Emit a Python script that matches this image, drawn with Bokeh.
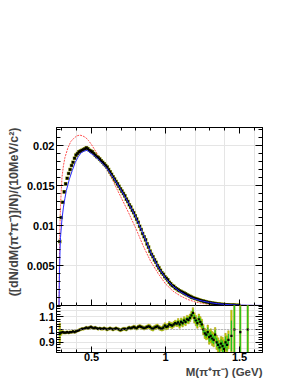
from bokeh.plotting import figure
from bokeh.models import Range1d, LinearAxis, FixedTicker, CustomJSTickFormatter, Span, Title
from bokeh.layouts import column
from bokeh.embed import file_html
from bokeh.resources import INLINE

FONT = "Liberation Sans"

# ---------------- data ----------------
# bin centres, 10 MeV bins starting at threshold
mass = [round(0.285 + 0.01 * i, 3) for i in range(122)]

# dN/dM / N per 10 MeV, in units of 1e-3
dndm_e3 = [
    8.0, 11.0, 12.9, 14.2, 15.2, 15.9, 16.5, 17.0, 17.5, 17.9,
    18.4, 18.8, 19.0, 19.2, 19.3, 19.4, 19.5, 19.6, 19.7, 19.6,
    19.4, 19.3, 19.2, 19.0, 18.8, 18.6, 18.5, 18.3, 18.1, 17.9,
    17.7, 17.5, 17.3, 17.0, 16.7, 16.4, 16.1, 15.8, 15.5, 15.2,
    14.9, 14.6, 14.3, 14.0, 13.7, 13.3, 13.0, 12.6, 12.3, 11.9,
    11.6, 11.2, 10.8, 10.4, 9.9, 9.5, 9.0, 8.6, 8.2, 7.7,
    7.3, 6.8, 6.4, 6.1, 5.7, 5.4, 5.0, 4.7, 4.4, 4.1,
    3.9, 3.6, 3.4, 3.2, 2.9, 2.7, 2.5, 2.4, 2.2, 2.1,
    1.95, 1.85, 1.75, 1.65, 1.55, 1.45, 1.35, 1.25, 1.15, 1.05,
    0.97, 0.9, 0.84, 0.78, 0.72, 0.66, 0.6, 0.55, 0.5, 0.45,
    0.41, 0.37, 0.33, 0.3, 0.27, 0.24, 0.22, 0.19, 0.17, 0.15,
    0.13, 0.12, 0.1, 0.09, 0.08, 0.07, 0.06, 0.05, 0.045, 0.04,
    0.035, 0.03,
]

# simulation curve (blue)
blue_x = [0.28, 0.283, 0.287, 0.29, 0.30, 0.31, 0.32, 0.33, 0.35, 0.37,
          0.39, 0.41, 0.43, 0.45, 0.47, 0.49, 0.52, 0.56, 0.60, 0.65,
          0.70, 0.75, 0.80, 0.85, 0.90, 0.95, 1.00, 1.05, 1.10, 1.15,
          1.20, 1.25, 1.30, 1.35, 1.40, 1.45, 1.50, 1.55, 1.60, 1.65]
blue_e3 = [0.0, 4.0, 7.0, 8.5, 10.8, 12.3, 13.4, 14.4, 15.8, 16.9,
           17.9, 18.6, 19.1, 19.3, 19.4, 19.1, 18.7, 18.0, 17.2, 15.9,
           14.4, 12.8, 11.0, 8.9, 6.6, 4.8, 3.4, 2.4, 1.7, 1.15,
           0.78, 0.55, 0.36, 0.23, 0.14, 0.08, 0.05, 0.03, 0.015, 0.01]

# alternative model curve (red, dotted)
red_x = [0.28, 0.282, 0.285, 0.29, 0.30, 0.31, 0.32, 0.34, 0.36, 0.38,
         0.40, 0.42, 0.44, 0.46, 0.48, 0.50, 0.52, 0.54, 0.56, 0.60,
         0.64, 0.67, 0.70, 0.75, 0.80, 0.85, 0.90, 0.95, 1.00, 1.05,
         1.10, 1.15, 1.20, 1.25, 1.30, 1.40, 1.50, 1.65]
red_e3 = [0.0, 5.0, 9.0, 12.5, 16.0, 17.5, 18.5, 19.7, 20.5, 20.9,
          21.2, 21.3, 21.2, 21.0, 20.6, 20.1, 19.5, 18.9, 18.4, 17.1,
          15.8, 14.6, 13.5, 11.6, 9.6, 7.4, 5.5, 4.0, 2.7, 1.8,
          1.2, 0.75, 0.45, 0.25, 0.13, 0.06, 0.02, 0.0]

# data / simulation ratio
ratio = [
    0.97, 0.975, 0.98, 0.975, 0.975, 0.98, 0.975, 0.98, 0.98, 0.985,
    0.98, 0.985, 0.99, 0.995, 1.0, 1.005, 1.005, 1.01, 1.015, 1.01,
    1.015, 1.02, 1.015, 1.01, 1.015, 1.01, 1.005, 1.01, 1.005, 1.005,
    1.01, 1.005, 1.0, 1.005, 1.01, 1.005, 1.0, 1.005, 1.01, 1.005,
    1.0, 0.995, 1.0, 1.005, 1.005, 1.0, 1.01, 1.015, 1.01, 1.015,
    1.02, 1.015, 1.01, 1.02, 1.025, 1.02, 1.015, 1.01, 1.015, 1.02,
    1.025, 1.02, 1.01, 1.005, 1.015, 1.02, 1.025, 1.015, 1.01, 1.005,
    1.015, 1.03, 1.02, 1.025, 1.04, 1.035, 1.03, 1.04, 1.05, 1.045,
    1.055, 1.04, 1.06, 1.05, 1.07, 1.06, 1.08, 1.075, 1.09, 1.11,
    1.13, 1.09, 1.07, 1.05, 1.08, 1.06, 1.04, 1.0, 0.97, 0.96,
    0.98, 0.94, 0.95, 0.93, 0.92, 0.96, 0.90, 0.88, 0.86, 0.89,
    0.87, 0.85, 0.90, 0.88, 0.92,
]
ratio_stat = [
    0.02, 0.008, 0.006, 0.005, 0.005, 0.005, 0.005, 0.005, 0.005, 0.005,
    0.005, 0.005, 0.005, 0.005, 0.005, 0.005, 0.005, 0.005, 0.005, 0.005,
    0.005, 0.005, 0.005, 0.005, 0.005, 0.005, 0.005, 0.005, 0.005, 0.005,
    0.006, 0.006, 0.006, 0.006, 0.006, 0.006, 0.006, 0.006, 0.006, 0.006,
    0.007, 0.007, 0.007, 0.007, 0.007, 0.007, 0.007, 0.007, 0.007, 0.007,
    0.008, 0.008, 0.008, 0.008, 0.008, 0.008, 0.008, 0.008, 0.008, 0.008,
    0.010, 0.010, 0.010, 0.010, 0.010, 0.010, 0.010, 0.010, 0.010, 0.010,
    0.013, 0.013, 0.013, 0.013, 0.013, 0.013, 0.013, 0.013, 0.013, 0.013,
    0.018, 0.018, 0.018, 0.018, 0.018, 0.018, 0.018, 0.018, 0.018, 0.018,
    0.025, 0.025, 0.025, 0.025, 0.025, 0.025, 0.025, 0.025, 0.025, 0.025,
    0.035, 0.035, 0.035, 0.035, 0.035, 0.035, 0.035, 0.035, 0.035, 0.035,
    0.045, 0.045, 0.045, 0.045, 0.045,
]
ratio_tot = [
    0.08, 0.02, 0.012, 0.01, 0.01, 0.01, 0.01, 0.01, 0.01, 0.01,
    0.01, 0.01, 0.01, 0.01, 0.01, 0.01, 0.01, 0.01, 0.01, 0.01,
    0.01, 0.01, 0.01, 0.01, 0.01, 0.01, 0.01, 0.01, 0.01, 0.01,
    0.011, 0.011, 0.011, 0.011, 0.011, 0.011, 0.011, 0.011, 0.011, 0.011,
    0.012, 0.012, 0.012, 0.012, 0.012, 0.012, 0.012, 0.012, 0.012, 0.012,
    0.014, 0.014, 0.014, 0.014, 0.014, 0.014, 0.014, 0.014, 0.014, 0.014,
    0.017, 0.017, 0.017, 0.017, 0.017, 0.017, 0.017, 0.017, 0.017, 0.017,
    0.022, 0.022, 0.022, 0.022, 0.022, 0.022, 0.022, 0.022, 0.022, 0.022,
    0.03, 0.03, 0.03, 0.03, 0.03, 0.03, 0.03, 0.03, 0.03, 0.03,
    0.04, 0.04, 0.04, 0.04, 0.04, 0.04, 0.04, 0.04, 0.04, 0.04,
    0.055, 0.055, 0.055, 0.055, 0.055, 0.055, 0.055, 0.055, 0.055, 0.055,
    0.07, 0.07, 0.07, 0.07, 0.07,
]
# sparse high-mass ratio points
hi_mass = [1.445, 1.465, 1.505, 1.555]
hi_ratio = [0.95, 1.0, 0.98, 1.0]
hi_stat = [0.12, 0.2, 0.2, 0.3]
hi_tot = [0.2, 0.3, 0.3, 0.45]

# axis ticks
x_major = [0.5, 1.0, 1.5]
x_minor = [0.3, 0.4, 0.6, 0.7, 0.8, 0.9, 1.1, 1.2, 1.3, 1.4, 1.6]
y_major = [0.0, 0.005, 0.01, 0.015, 0.02]
y_minor = [0.001, 0.002, 0.003, 0.004, 0.006, 0.007, 0.008, 0.009,
           0.011, 0.012, 0.013, 0.014, 0.016, 0.017, 0.018, 0.019,
           0.021, 0.022]
r_major = [0.9, 1.0, 1.1]
r_minor = [0.84, 0.86, 0.88, 0.92, 0.94, 0.96, 0.98, 1.02, 1.04, 1.06,
           1.08, 1.12, 1.14, 1.16, 1.18]

y_title = "([dN/dM(\u03c0\u207a\u03c0\u207b)]/N)/(10MeV/c\u00b2)"
x_title = "M(\u03c0\u207a\u03c0\u207b) (GeV)"

# ---------------- helpers ----------------
FMT = "return String(Math.round(tick*1e6)/1e6);"


def make_axis(major, minor, labels, tin=6, tmin=3):
    ax = LinearAxis(ticker=FixedTicker(ticks=major, minor_ticks=minor))
    ax.major_tick_in = tin
    ax.major_tick_out = 0
    ax.minor_tick_in = tmin
    ax.minor_tick_out = 0
    ax.axis_line_color = "black"
    ax.major_tick_line_color = "black"
    ax.minor_tick_line_color = "black"
    ax.major_label_text_font = FONT
    ax.major_label_text_font_style = "bold"
    ax.major_label_text_font_size = "11px"
    ax.major_label_text_color = "black"
    if labels:
        ax.formatter = CustomJSTickFormatter(code=FMT)
        ax.major_label_standoff = 2
    else:
        ax.formatter = CustomJSTickFormatter(code="return '';")
        ax.major_label_standoff = 0
    return ax


x_rng = Range1d(0.263, 1.655)

# ---------------- main panel ----------------
OVER = 8  # rows of the main canvas that the ratio panel overlaps
p1 = figure(width=290, height=305 + OVER, x_range=x_rng, y_range=Range1d(0.0, 0.02225),
            output_backend="svg", toolbar_location=None,
            x_axis_location=None, y_axis_location=None,
            min_border_left=56, min_border_right=28,
            min_border_top=127, min_border_bottom=OVER)
p1.outline_line_color = "black"
p1.outline_line_width = 1
p1.background_fill_color = "white"
p1.border_fill_color = "white"

yl = make_axis(y_major, y_minor, True, tin=7, tmin=4)
p1.add_layout(yl, "left")
p1.add_layout(Title(text=y_title, align="right", text_font=FONT,
                    text_font_style="bold", text_font_size="12.5px",
                    standoff=5, offset=0), "left")
p1.add_layout(make_axis(y_major, y_minor, False, tin=7, tmin=4), "right")
xb1 = make_axis(x_major, x_minor, False)
xb1.major_label_text_font_size = "1px"
p1.add_layout(xb1, "below")
p1.add_layout(make_axis(x_major, x_minor, False), "above")

dndm = [v * 1e-3 for v in dndm_e3]
blue_y = [v * 1e-3 for v in blue_e3]
red_y = [v * 1e-3 for v in red_e3]

p1.line(red_x, red_y, line_color="#ff5050", line_dash="2 1", line_width=1)
p1.scatter(mass, dndm, marker="square", size=3.6, fill_color="#8f9a10", line_color=None)
p1.scatter(mass, dndm, marker="square", size=2.6, fill_color="black", line_color=None)
p1.line(blue_x, blue_y, line_color="#2a2aff", line_width=1)

# ---------------- ratio panel ----------------
p2 = figure(width=290, height=77, x_range=x_rng, y_range=Range1d(0.821, 1.187),
            output_backend="svg", toolbar_location=None,
            x_axis_location=None, y_axis_location=None,
            min_border_left=56, min_border_right=28,
            min_border_top=0, min_border_bottom=30)
p2.outline_line_color = "black"
p2.outline_line_width = 1
p2.background_fill_color = None
p2.border_fill_color = None
p2.margin = (-OVER, 0, 0, 0)

p2.add_layout(make_axis(r_major, r_minor, True, tin=7, tmin=4), "left")
p2.add_layout(make_axis(r_major, r_minor, False, tin=7, tmin=4), "right")
xb = make_axis(x_major, x_minor, True)
xb.major_label_standoff = 0
p2.add_layout(xb, "below")
p2.add_layout(Title(text=x_title, align="right", text_font=FONT,
                    text_font_style="bold", text_font_size="11.5px",
                    standoff=1, offset=0), "below")

p2.add_layout(Span(location=1.0, dimension="width", line_color="#888888",
                   line_dash="1 2", line_width=1))

rm = mass[:len(ratio)] + hi_mass
rv = ratio + hi_ratio
rs = ratio_stat + hi_stat
rt = ratio_tot + hi_tot
hw = 0.005
p2.quad(left=[m - hw for m in rm], right=[m + hw for m in rm],
        bottom=[r - t for r, t in zip(rv, rt)], top=[r + t for r, t in zip(rv, rt)],
        fill_color="#d2d200", line_color="#9a9a00", line_width=0.5)
p2.quad(left=[m - hw * 0.8 for m in rm], right=[m + hw * 0.8 for m in rm],
        bottom=[r - s for r, s in zip(rv, rs)], top=[r + s for r, s in zip(rv, rs)],
        fill_color="#1fc21f", line_color=None)
p2.scatter(rm, rv, marker="square", size=2.2, fill_color="black", line_color=None)

layout = column(p1, p2, spacing=0)
open("out.html", "w").write(file_html(layout, INLINE))
